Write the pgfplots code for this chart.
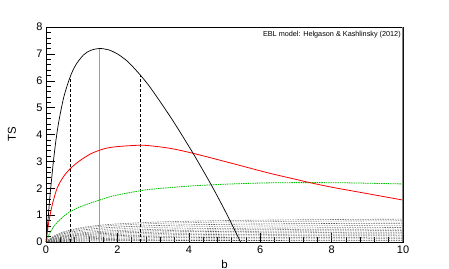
\documentclass[border=0pt]{standalone}
\usepackage{pgfplots}
\pgfplotsset{compat=1.18}
\usepackage{pgfplotstable}
\usepackage{fontspec}
\setmainfont{Liberation Sans}

\pgfplotstableread{
b     ts
0     0
0.05  0.72
0.1   1.54
0.15  2.25
0.21  3.03
0.28  3.8
0.365 4.53
0.5   5.4
0.67  6.12
0.83  6.58
1.05  6.96
1.25  7.13
1.5   7.2
1.75  7.15
2.0   7.0
2.3   6.7
2.65  6.2
2.92  5.75
3.25  5.12
3.6   4.42
4.12  3.3
4.61  2.17
5.0   1.2
5.45  0
}\blacktab

\pgfplotstableread{
b     ts
0     0
0.04  0.4
0.085 0.79
0.18  1.41
0.32  2.03
0.5   2.45
0.674 2.72
0.9   2.98
1.25  3.28
1.63  3.47
2.0   3.55
2.6   3.6
2.92  3.58
3.5   3.48
4.12  3.3
5.0   3.0
6.2   2.58
7.0   2.33
7.42  2.2
8.0   2.04
8.54  1.91
9.0   1.8
10    1.56
}\redtab

\pgfplotstableread{
b     ts
0     0
0.04  0.13
0.094 0.3
0.2   0.54
0.32  0.74
0.5   0.96
0.674 1.13
1.0   1.33
1.63  1.62
2.0   1.75
2.65  1.91
3.0   1.97
4.0   2.08
5.0   2.15
6.2   2.2
7.42  2.21
8.5   2.2
10    2.16
}\greentab

\pgfplotstableread{
b    c1    c2    c3    c4    c5    c6    c7    c8    c9    c10   c11   c12   c13
0    0     0     0     0     0     0     0     0     0     0     0     0     0
0.1  0.114 0.106 0.094 0.083 0.072 0.064 0.056 0.048 0.040 0.032 0.024 0.016 0.008
0.25 0.240 0.223 0.197 0.175 0.152 0.135 0.118 0.102 0.085 0.068 0.051 0.034 0.017
0.5  0.379 0.352 0.312 0.277 0.241 0.214 0.187 0.161 0.134 0.107 0.080 0.054 0.027
1    0.536 0.498 0.441 0.391 0.340 0.302 0.265 0.227 0.189 0.151 0.113 0.076 0.038
1.5  0.621 0.577 0.511 0.453 0.394 0.350 0.307 0.263 0.219 0.175 0.131 0.088 0.044
2    0.674 0.626 0.555 0.492 0.428 0.381 0.333 0.285 0.238 0.190 0.143 0.095 0.048
3    0.738 0.686 0.608 0.538 0.469 0.417 0.365 0.312 0.260 0.208 0.156 0.104 0.052
4    0.774 0.720 0.638 0.565 0.492 0.437 0.383 0.328 0.273 0.219 0.164 0.109 0.055
5    0.798 0.742 0.657 0.582 0.507 0.451 0.394 0.338 0.282 0.225 0.169 0.113 0.056
6    0.814 0.757 0.671 0.594 0.517 0.460 0.402 0.345 0.287 0.230 0.172 0.115 0.057
8    0.836 0.777 0.689 0.610 0.531 0.472 0.413 0.354 0.295 0.236 0.177 0.118 0.059
10   0.850 0.790 0.700 0.620 0.540 0.480 0.420 0.360 0.300 0.240 0.180 0.120 0.060
}\graytab

\begin{document}
\begin{tikzpicture}
\path[use as bounding box] (-46bp,-27bp) rectangle (403bp,242bp);
\begin{axis}[
  at={(0,0)}, anchor=south west,
  scale only axis, width=357bp, height=215bp,
  xmin=0, xmax=10, ymin=0, ymax=8,
  xtick={0,2,...,10}, ytick={0,1,...,8},
  minor x tick num=4, minor y tick num=4,
  tick align=inside, xtick pos=bottom, ytick pos=left,
  major tick length=9bp, minor tick length=5bp,
  tick style={black, line width=0.5bp},
  axis line style={line width=0.8bp},
  ticklabel style={font=\fontsize{11}{13}\selectfont},
  /pgf/number format/assume math mode=true,
  xlabel={b}, ylabel={TS},
  label style={font=\fontsize{11.5}{13}\selectfont},
  xlabel style={at={(axis description cs:0.5,-0.121)}, anchor=base},
  ylabel style={at={(axis description cs:-0.0955,0.5)}, anchor=center},
  gr/.style={line width=0.6bp, dash pattern=on 1.5bp off 1bp, smooth, tension=0.5, forget plot},
]
\addplot[gr, black!55] table[x=b, y=c1] {\graytab};
\addplot[gr, black!45] table[x=b, y=c2] {\graytab};
\addplot[gr, black!65] table[x=b, y=c3] {\graytab};
\addplot[gr, black!40] table[x=b, y=c4] {\graytab};
\addplot[gr, black!55] table[x=b, y=c5] {\graytab};
\addplot[gr, black!50] table[x=b, y=c6] {\graytab};
\addplot[gr, black!65] table[x=b, y=c7] {\graytab};
\addplot[gr, black!45] table[x=b, y=c8] {\graytab};
\addplot[gr, black!60] table[x=b, y=c9] {\graytab};
\addplot[gr, black!50] table[x=b, y=c10] {\graytab};
\addplot[gr, black!65] table[x=b, y=c11] {\graytab};
\addplot[gr, black!55] table[x=b, y=c12] {\graytab};
\addplot[gr, black!70] table[x=b, y=c13] {\graytab};
\addplot[black!38, line width=1.8bp, forget plot] coordinates {(1.5,0) (1.5,7.2)};
\addplot[black, line width=0.45bp, dash pattern=on 3bp off 2bp, forget plot] coordinates {(0.674,0) (0.674,6.12)};
\addplot[black, line width=0.45bp, dash pattern=on 3bp off 2bp, forget plot] coordinates {(2.65,0) (2.65,6.2)};
\addplot[green!75!black, line width=0.8bp, dash pattern=on 1.5bp off 0.8bp, smooth, tension=0.5] table[x=b, y=ts] {\greentab};
\addplot[red, line width=0.8bp, smooth, tension=0.5] table[x=b, y=ts] {\redtab};
\addplot[black, line width=0.7bp, smooth, tension=0.5] table[x=b, y=ts] {\blacktab};
\draw[black!50, line width=1.5bp] (rel axis cs:1,0) -- (rel axis cs:1,1);
\node[anchor=north east, font=\fontsize{7.3}{9}\selectfont, inner sep=1bp] at (rel axis cs:0.997,0.985) {EBL model: Helgason \& Kashlinsky (2012)};
\end{axis}
\end{tikzpicture}
\end{document}
